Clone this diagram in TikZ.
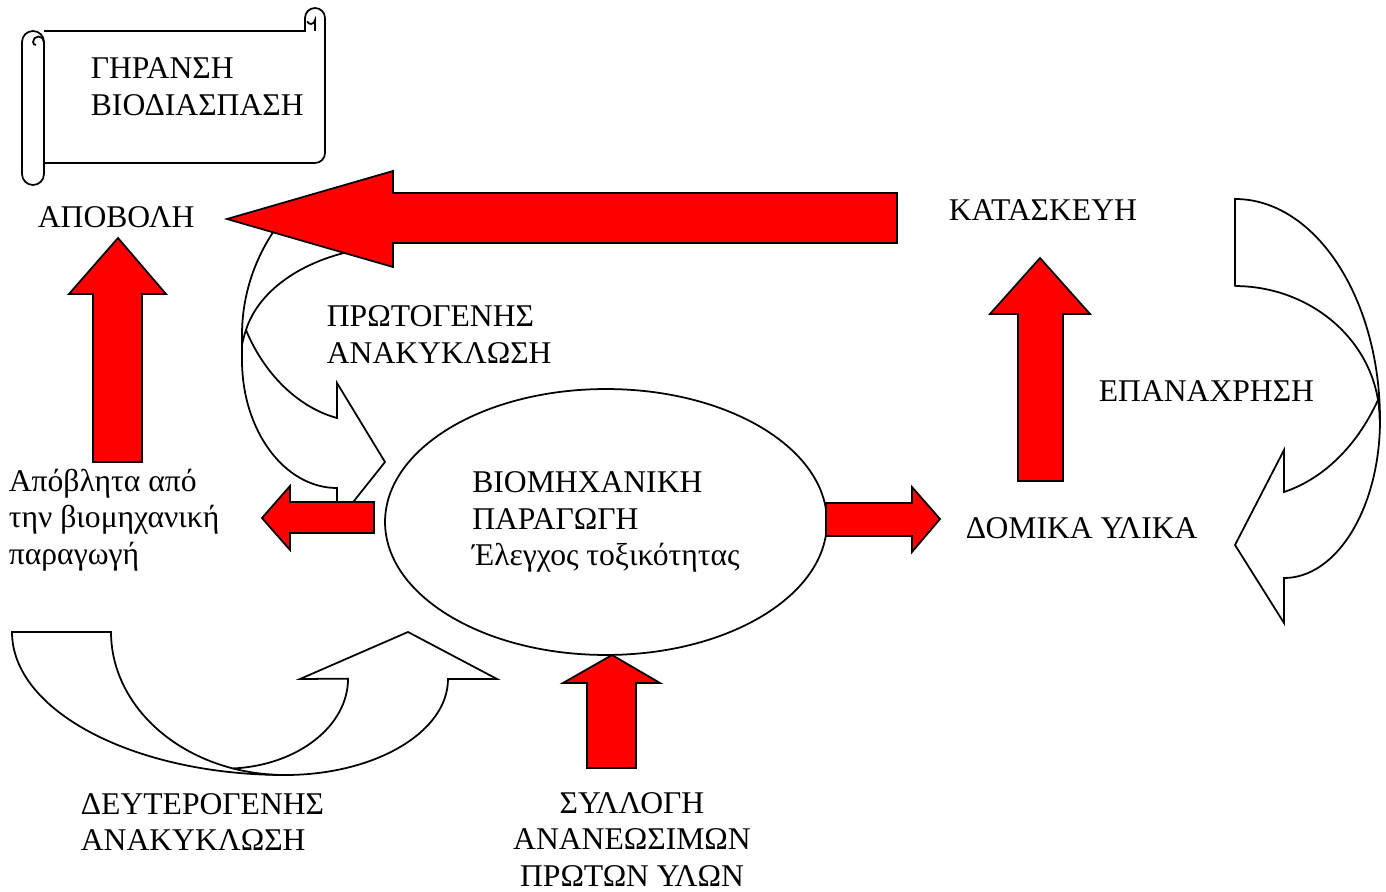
\documentclass[tikz,border=0pt]{standalone}
\usepackage{fontspec}
\setmainfont{Liberation Serif}
\usetikzlibrary{shapes.geometric, positioning}

\begin{document}
\begin{tikzpicture}[
  x=0.02cm, y=-0.02cm,
  font=\fontsize{18pt}{20.7pt}\selectfont,
  line width=1pt,
  txt/.style={inner sep=0pt, align=left},
  redarrow/.style={draw=black, fill=red},
  whitearrow/.style={draw=black, fill=white},
  prodbox/.style={draw, ellipse, inner sep=0pt, align=left,
                  minimum width=8.84cm, minimum height=5.32cm},
]
\useasboundingbox (0,0) rectangle (1386,892);

% scroll
\draw[fill=white] (44,31) -- (305,31) -- (305,18) arc[start angle=180, end angle=360, radius=10]
  -- (325,153) arc[start angle=0, end angle=90, radius=10] -- (44,163);
\draw (315,31) -- (315,20) arc[start angle=0, end angle=160, radius=4];
\draw[fill=white] (22,42) arc[start angle=180, end angle=360, radius=11]
  -- (44,174) arc[start angle=0, end angle=180, radius=11] -- cycle;
\draw (44,42) arc[start angle=0, end angle=-180, radius=5.5] arc[start angle=180, end angle=90, radius=3];

% curved white arrows
\draw[whitearrow] (290,210) .. controls (255,250) and (242,295) .. (242,335) -- (242,360)
  arc[start angle=180, end angle=90, x radius=95, y radius=128]
  -- (337,506) -- (350,506) -- (385,462) -- (337,383) -- (337,418)
  .. controls (300,408) and (265,376) .. (246,330)
  .. controls (258,292) and (300,260) .. (362,249) -- cycle;
\draw (246,330) .. controls (244,336) .. (242,345);

\draw[whitearrow] (12,632) -- (111,632)
  arc[start angle=180, end angle=107.4, x radius=174, y radius=143]
  arc[start angle=86.3, end angle=0, x radius=123, y radius=90]
  -- (300,679) -- (408,632) -- (497,679) -- (448,679)
  arc[start angle=0, end angle=90, x radius=163, y radius=96]
  arc[start angle=90, end angle=180, x radius=273, y radius=143] -- cycle;
\draw (285,775) arc[start angle=90, end angle=107.4, x radius=174, y radius=143];

\draw[whitearrow] (1235,286) -- (1235,199)
  arc[start angle=270, end angle=360, x radius=145, y radius=221]
  arc[start angle=0, end angle=90, x radius=96, y radius=158]
  -- (1284,623) -- (1235,545) -- (1284,450) -- (1284,492)
  .. controls (1320,480) and (1355,450) .. (1378,400)
  arc[start angle=-8.6, end angle=-90, x radius=145, y radius=134] -- cycle;
\draw (1378,400) arc[start angle=-8.6, end angle=0, x radius=145, y radius=134];

% production
\node[prodbox] (prod) at (606,522) {ΒΙΟΜΗΧΑΝΙΚΗ\\ΠΑΡΑΓΩΓΗ\\Έλεγχος τοξικότητας};

% red arrows
\draw[redarrow] (897,193) -- (393,193) -- (393,171) -- (227,219) -- (393,267) -- (393,243) -- (897,243) -- cycle;
\draw[redarrow] (93,462) -- (93,294) -- (69,294) -- (118,238) -- (166,294) -- (142,294) -- (142,462) -- cycle;
\draw[redarrow] (1018,481) -- (1018,314) -- (990,314) -- (1040,258) -- (1090,314) -- (1063,314) -- (1063,481) -- cycle;
\draw[redarrow] (374,502) -- (290,502) -- (290,486) -- (262,518) -- (290,550) -- (290,533) -- (374,533) -- cycle;
\draw[redarrow] (826,503) -- (912,503) -- (912,487) -- (940,519) -- (912,552) -- (912,536) -- (826,536) -- cycle;
\draw[redarrow] (587,768) -- (587,683) -- (563,683) -- (612,655) -- (660,683) -- (636,683) -- (636,768) -- cycle;

% labels (base = last line)
\node[txt, anchor=base west] (decay) at (90,115) {ΓΗΡΑΝΣΗ\\ΒΙΟΔΙΑΣΠΑΣΗ};
\node[txt, anchor=base west] (disposal) at (37,227.5) {ΑΠΟΒΟΛΗ};
\node[txt, anchor=base west] (construct) at (948,220.5) {ΚΑΤΑΣΚΕΥΗ};
\node[txt, anchor=base west] (primary) at (326,363) {ΠΡΩΤΟΓΕΝΗΣ\\ΑΝΑΚΥΚΛΩΣΗ};
\node[txt, anchor=base west] (reuse) at (1098,401.5) {ΕΠΑΝΑΧΡΗΣΗ};
\node[txt, anchor=base west] (waste) at (8,564) {Απόβλητα από\\την βιομηχανική\\παραγωγή};
\node[txt, anchor=base west] (materials) at (965,538.5) {ΔΟΜΙΚΑ ΥΛΙΚΑ};
\node[txt, anchor=base west] (secondary) at (80,850.5) {ΔΕΥΤΕΡΟΓΕΝΗΣ\\ΑΝΑΚΥΚΛΩΣΗ};
\node[txt, align=center, anchor=base] (collect) at (632,886) {ΣΥΛΛΟΓΗ\\ΑΝΑΝΕΩΣΙΜΩΝ\\ΠΡΩΤΩΝ ΥΛΩΝ};

\end{tikzpicture}
\end{document}
